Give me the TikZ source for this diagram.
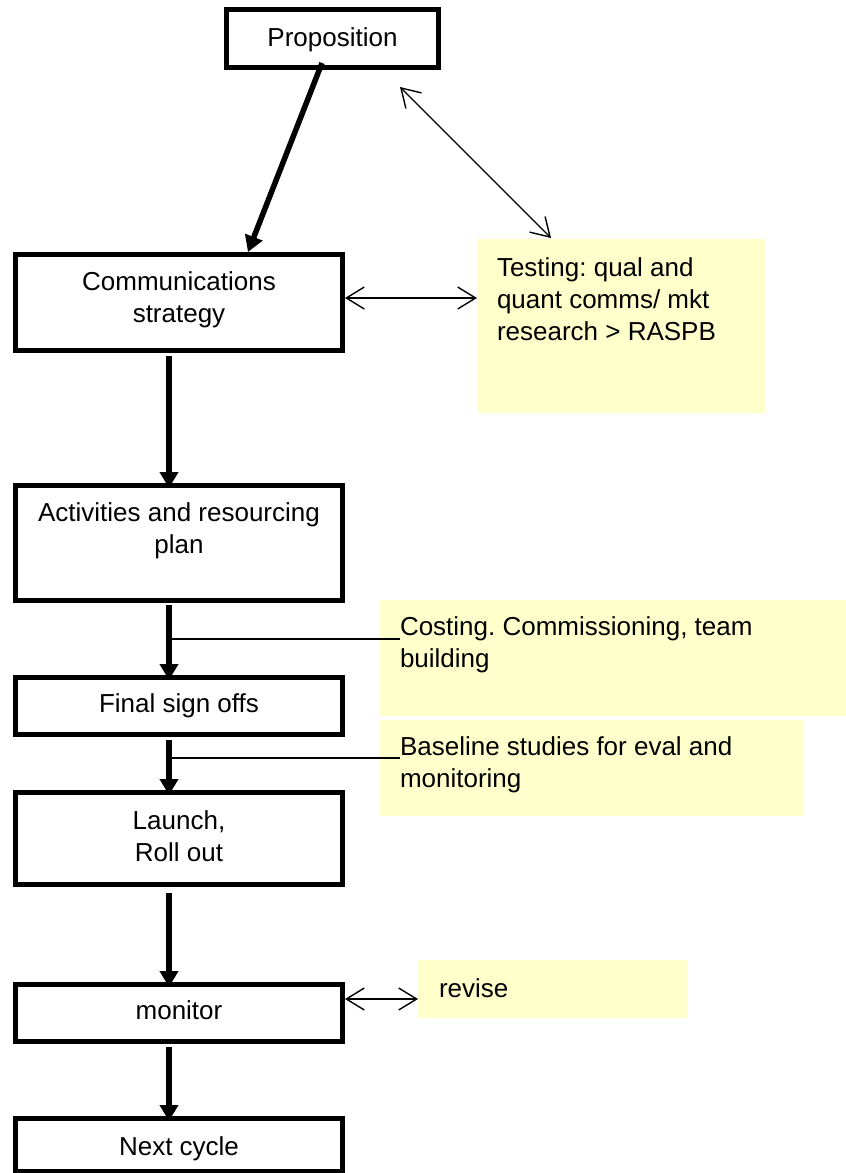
\documentclass[tikz,border=0pt]{standalone}
\usepackage{fontspec}
\setmainfont{Liberation Sans}
\usetikzlibrary{arrows.meta,calc}
\definecolor{notecol}{HTML}{FFFFCC}
\frenchspacing
\begin{document}
\begin{tikzpicture}[x=1pt,y=-1pt,
  box/.style={draw, line width=5pt, inner sep=0pt, outer sep=0pt, minimum width=327pt},
  notebox/.style={fill=notecol, inner sep=0pt, outer sep=0pt},
  txt/.style={inner sep=0pt, outer sep=0pt, font=\fontsize{26}{32.3}\selectfont\frenchspacing, align=center, anchor=north},
  ltxt/.style={inner sep=0pt, outer sep=0pt, font=\fontsize{26}{32.3}\selectfont\frenchspacing, align=left, anchor=north west},
  flow/.style={line width=5.5pt, -{Triangle[length=16pt,width=18pt]}},
  dbl/.style={line width=1.4pt, {Straight Barb[length=18pt,width=22pt]}-{Straight Barb[length=18pt,width=22pt]}},
  tie/.style={line width=1.3pt}]
\fill[white] (0,0) rectangle (846,1173);
\useasboundingbox (0,0) rectangle (846,1173);

% yellow notes
\node[notebox, minimum width=288pt, minimum height=174pt] (test) at (621,326) {};
\node[notebox, minimum width=466pt, minimum height=116pt] (cost) at (613,658) {};
\node[notebox, minimum width=423pt, minimum height=96pt] (base) at (591.5,768) {};
\node[notebox, minimum width=270pt, minimum height=58pt] (rev) at (553,989) {};

% flow boxes
\node[box, minimum width=212pt, minimum height=58pt] (prop) at (332.5,38.5) {};
\node[box, minimum height=96pt] (comm) at (179,302.5) {};
\node[box, minimum height=115pt] (act) at (179,543) {};
\node[box, minimum height=57pt] (fin) at (179,706) {};
\node[box, minimum height=92pt] (laun) at (179,838.5) {};
\node[box, minimum height=57pt] (mon) at (179,1013) {};
\node[box, minimum height=52.5pt] (next) at (179,1144.75) {};

% texts
\node[txt] (propT) at (332.5,27.4) {Proposition};
\node[txt] (commT) at (179,271.4) {Communications\\strategy};
\node[txt] (actT) at (179,502.4) {Activities and resourcing\\plan};
\node[txt] (finT) at (179,693.4) {Final sign offs};
\node[txt] (launT) at (179,810.4) {Launch,\\Roll out};
\node[txt] (monT) at (179,1000.4) {monitor};
\node[txt] (nextT) at (179,1136.4) {Next cycle};
\node[ltxt] (testT) at (497,257.4) {Testing: qual and\\quant comms/ mkt\\research > RASPB};
\node[ltxt] (costT) at (400,616.4) {Costing. Commissioning, team\\building};
\node[ltxt] (baseT) at (400,736.4) {Baseline studies for eval and\\monitoring};
\node[ltxt] (revT) at (439,978.4) {revise};

% flow arrows
\draw[flow] ($(prop.south)+(-10.5,-4.5)$) -- ($(comm.north)+(69,-2.5)$);
\draw[flow] ($(comm.south)+(-10,5.5)$) -- ($(act.north)+(-10,2.5)$);
\draw[flow] ($(act.south)+(-10,4.5)$) -- coordinate[pos=0.453] (j1) ($(fin.north)+(-10,2.5)$);
\draw[flow] ($(fin.south)+(-10,5.5)$) -- coordinate[pos=0.327] (j2) ($(laun.north)+(-10,2.5)$);
\draw[flow] ($(laun.south)+(-10,8.5)$) -- ($(mon.north)+(-10,2.5)$);
\draw[flow] ($(mon.south)+(-10,5.5)$) -- ($(next.north)+(-10,2.5)$);

% ties to notes
\draw[tie] (j1) -- (j1 -| costT.west);
\draw[tie] (j2) -- (j2 -| baseT.west);

% two-way arrows
\draw[dbl] ($(comm.east)+(2.5,-4.5)$) -- ($(test.west)+(0,-28)$);
\draw[dbl] ($(prop.south east)+(-38.5,19.5)$) -- ($(test.north west)+(74,-1)$);
\draw[dbl] ($(mon.east)+(2.5,-14)$) -- ($(rev.west)+(0,10)$);
\end{tikzpicture}
\end{document}
